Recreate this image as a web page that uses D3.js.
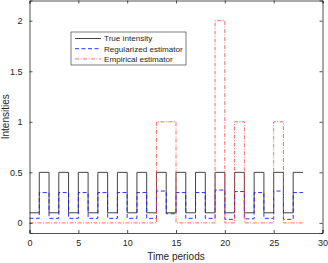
<!DOCTYPE html>
<html>
<head>
<meta charset="utf-8">
<script src="https://cdn.jsdelivr.net/npm/d3@7"></script>
<style>
  body { margin: 0; background: #fff; }
  text { font-family: "Liberation Sans", Arial, sans-serif; }
</style>
</head>
<body>
<div id="chart"></div>
<script>
// per-period values, period k covers [k, k+1]
const periods = d3.range(28);
const trueIntensity = [0.1, 0.5, 0.1, 0.5, 0.1, 0.5, 0.1, 0.5, 0.1, 0.5, 0.1, 0.5, 0.1, 0.5,
                       0.1, 0.5, 0.1, 0.5, 0.1, 0.5, 0.1, 0.5, 0.1, 0.5, 0.1, 0.5, 0.1, 0.5];
const regularized = [0.045, 0.30, 0.045, 0.30, 0.045, 0.30, 0.045, 0.30, 0.045, 0.30, 0.045, 0.30, 0.045, 0.315,
                     0.09, 0.30, 0.045, 0.30, 0.045, 0.325, 0.035, 0.31, 0.04, 0.30, 0.045, 0.315, 0.035, 0.30];
const empirical = [0, 0, 0, 0, 0, 0, 0, 0, 0, 0, 0, 0, 0, 1,
                   1, 0, 0, 0, 0, 2, 0, 1, 0, 0, 0, 1, 0, 0];
const xTicks = [0, 5, 10, 15, 20, 25, 30];
const yTicks = [0, 0.5, 1, 1.5, 2];
const seriesNames = ["True intensity", "Regularized estimator", "Empirical estimator"];

const W = 328, H = 263;
const margin = { top: 0.5, right: 5.5, bottom: 30, left: 29.5 };
const width = W - margin.left - margin.right,
      height = H - margin.top - margin.bottom;
const axisColor = "#262626";

const svg = d3.select("#chart").append("svg")
    .attr("width", W).attr("height", H);
const g = svg.append("g")
    .attr("transform", `translate(${margin.left},${margin.top})`);

const x = d3.scaleLinear().domain([0, 30]).range([0, width]);
const y = d3.scaleLinear().domain([-0.1, 2.2]).range([height, 0]);

// turn per-period values into step vertices
function steps(vals) {
  const pts = [];
  periods.forEach(k => { pts.push([k, vals[k]]); pts.push([k + 1, vals[k]]); });
  return pts;
}
const line = d3.line().x(d => x(d[0])).y(d => y(d[1]));

const series = [
  { name: seriesNames[0], vals: trueIntensity, color: "#444", dash: null, w: 1 },
  { name: seriesNames[1], vals: regularized, color: "#1a1aff", dash: "4,2.5", w: 0.9 },
  { name: seriesNames[2], vals: empirical, color: "#ff4444", dash: "4,1.5,1,1.5", w: 0.8 }
];

// draw the lines
g.selectAll(".series")
  .data(series)
  .join("path")
  .attr("fill", "none")
  .attr("stroke", d => d.color)
  .attr("stroke-width", d => d.w)
  .attr("stroke-dasharray", d => d.dash)
  .attr("d", d => line(steps(d.vals)));

// axes, matlab style box with inward ticks
const tickLen = 3;
const xb = g.append("g").attr("transform", `translate(0,${height})`)
  .call(d3.axisBottom(x).tickValues(xTicks).tickSize(-tickLen).tickPadding(7));
const xt = g.append("g")
  .call(d3.axisTop(x).tickValues(xTicks).tickSize(-tickLen).tickFormat(""));
const yl = g.append("g")
  .call(d3.axisLeft(y).tickValues(yTicks).tickSize(-tickLen).tickPadding(7).tickFormat(d3.format("")));
const yr = g.append("g").attr("transform", `translate(${width},0)`)
  .call(d3.axisRight(y).tickValues(yTicks).tickSize(-tickLen).tickFormat(""));

[xb, xt, yl, yr].forEach(a => {
  a.selectAll("path.domain").attr("stroke", axisColor).attr("stroke-width", 0.8);
  a.selectAll(".tick line").attr("stroke", axisColor).attr("stroke-width", 0.8);
  a.selectAll("text").attr("fill", axisColor).style("font-size", "9px")
    .style("font-family", "'Liberation Sans', Arial, sans-serif");
});

// axis labels
svg.append("text")
  .attr("x", margin.left + width / 2).attr("y", 260)
  .attr("text-anchor", "middle").attr("fill", axisColor)
  .style("font-size", "10px").text("Time periods");
svg.append("text")
  .attr("transform", `translate(9,${margin.top + height / 2}) rotate(-90)`)
  .attr("text-anchor", "middle").attr("fill", axisColor)
  .style("font-size", "10px").text("Intensities");

// legend
const legend = svg.append("g").attr("transform", "translate(71,32)");
legend.append("rect")
  .attr("x", 0).attr("y", 0).attr("width", 115).attr("height", 33)
  .attr("fill", "#fff").attr("stroke", axisColor).attr("stroke-width", 0.6);
const items = legend.selectAll(".item").data(series).join("g")
  .attr("transform", (d, i) => `translate(0,${6.5 + i * 10.2})`);
items.append("line")
  .attr("x1", 4).attr("x2", 30).attr("y1", 0).attr("y2", 0)
  .attr("stroke", d => d.color).attr("stroke-width", d => d.w)
  .attr("stroke-dasharray", d => d.dash);
items.append("text")
  .attr("x", 33).attr("y", 0).attr("dy", "0.35em")
  .attr("fill", axisColor).style("font-size", "8.1px")
  .text(d => d.name);
</script>
</body>
</html>
